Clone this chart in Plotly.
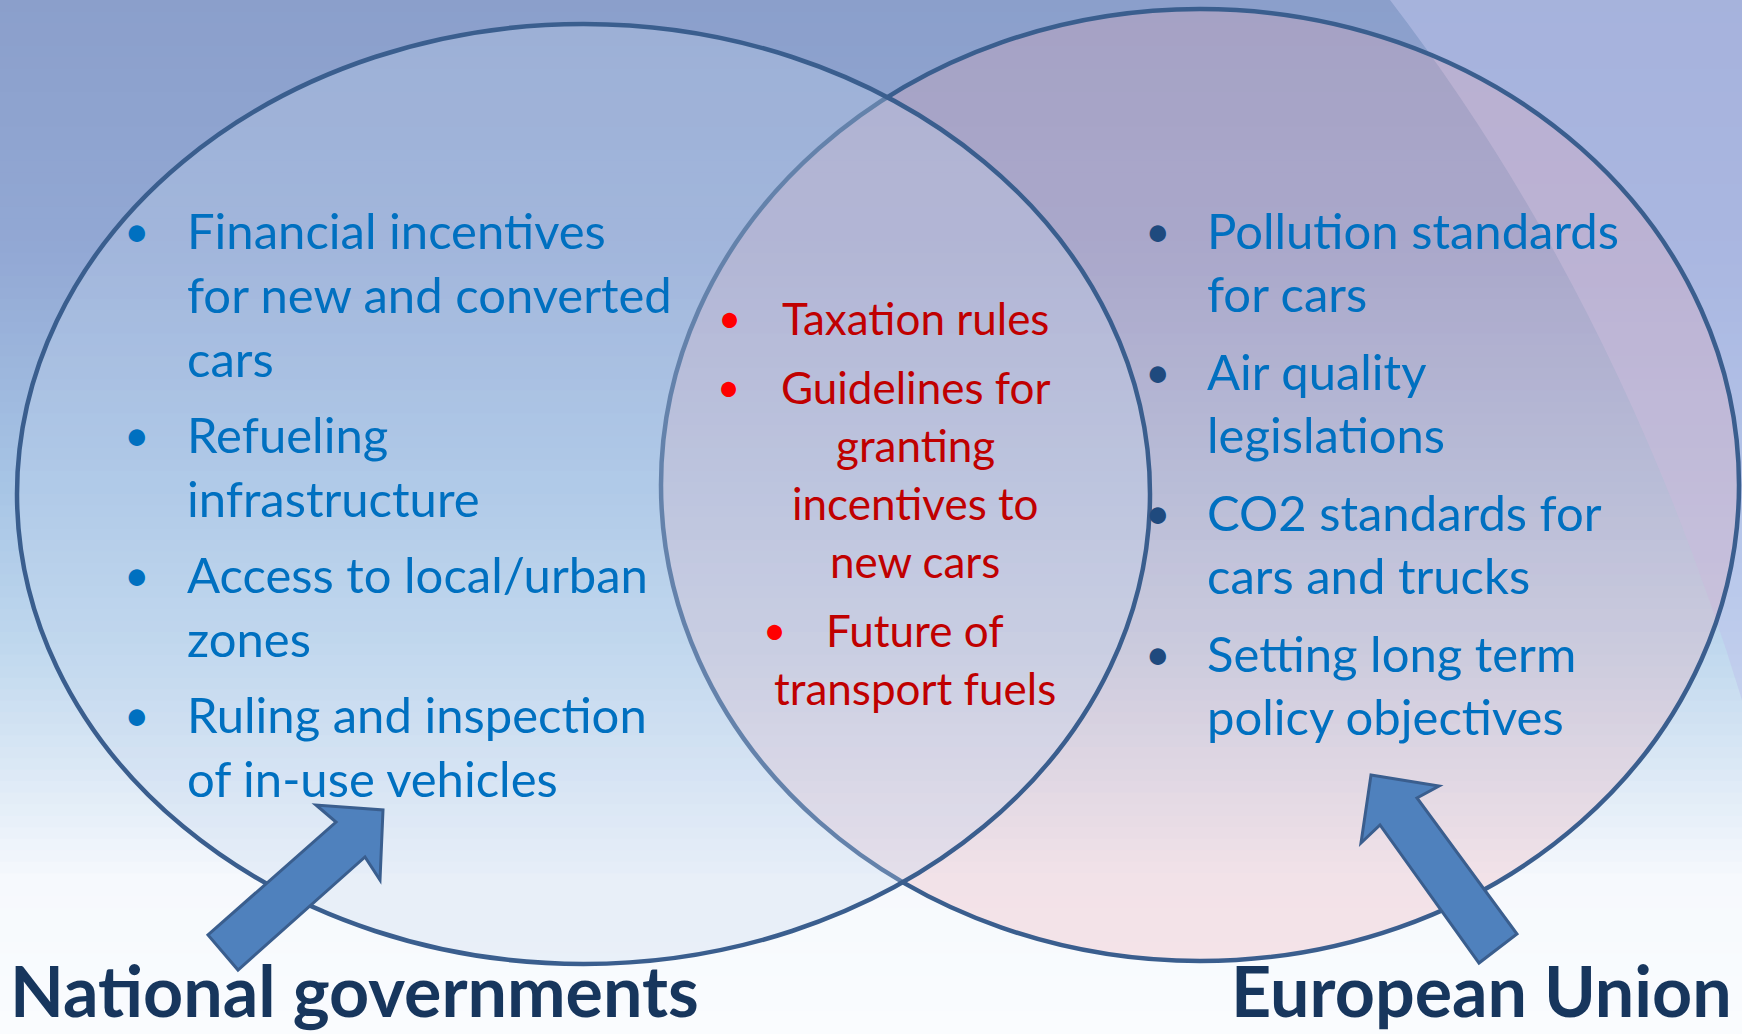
import plotly.graph_objects as go

W, H = 1742, 1034

# ---------------- data (text content) ----------------
national_items = [
    ["Financial incentives", "for new and converted", "cars"],
    ["Refueling", "infrastructure"],
    ["Access to local/urban", "zones"],
    ["Ruling and inspection", "of in-use vehicles"],
]
eu_items = [
    ["Pollution standards", "for cars"],
    ["Air quality", "legislations"],
    ["CO2 standards for", "cars and trucks"],
    ["Setting long term", "policy objectives"],
]
shared_items = [
    ["Taxation rules"],
    ["Guidelines for", "granting", "incentives to", "new cars"],
    ["Future of", "transport fuels"],
]
group_titles = ["National governments", "European Union"]

# ---------------- style / layout ----------------
FONT = "Lato"
BLUE_TXT = "#0070C0"
NAVY_BULLET = "#1F4A7E"
RED_TXT = "#C00000"
RED_BULLET = "#FF0000"
TITLE_COL = "#17365D"
OUTLINE = "#3A5E8E"
ARROW_FILL = "#4F81BD"

shapes = []
annotations = []

# background vertical gradient (bands)
stops = [(0, (139, 159, 203)), (250, (146, 168, 212)), (480, (166, 196, 229)),
         (650, (192, 216, 238)), (780, (222, 234, 246)), (880, (246, 249, 253)),
         (1034, (250, 252, 254))]

def interp(y):
    for (y0, c0), (y1, c1) in zip(stops[:-1], stops[1:]):
        if y0 <= y <= y1:
            t = (y - y0) / (y1 - y0)
            return tuple(int(round(a + (b - a) * t)) for a, b in zip(c0, c1))
    return stops[-1][1]

nb = 90
for i in range(nb):
    y0 = H * i / nb
    y1 = H * (i + 1) / nb + 1
    r, g, b = interp((y0 + y1) / 2)
    shapes.append(dict(type="rect", x0=0, x1=W, y0=y0, y1=y1, xref="x", yref="y",
                       fillcolor=f"rgb({r},{g},{b})", line=dict(width=0), layer="below"))

# soft lavender area upper right
shapes.append(dict(type="path", xref="x", yref="y",
                   path="M 1390 0 L 1742 0 L 1742 700 Q 1620 300 1390 0 Z",
                   fillcolor="rgba(190,195,235,0.55)", line=dict(width=0), layer="below"))

# ellipses (right first, then left on top)
right_ell = dict(x0=661, x1=1739, y0=9, y1=961)
left_ell = dict(x0=17, x1=1150, y0=24, y1=964)
shapes.append(dict(type="circle", xref="x", yref="y", **right_ell,
                   fillcolor="rgba(235,170,180,0.28)", line=dict(color=OUTLINE, width=4.5)))
shapes.append(dict(type="circle", xref="x", yref="y", **left_ell,
                   fillcolor="rgba(200,215,240,0.30)", line=dict(color=OUTLINE, width=4.5)))

# arrows
def poly(pts):
    return "M " + " L ".join(f"{x} {y}" for x, y in pts) + " Z"

left_arrow = [(383, 810), (380, 880), (365, 857), (238, 970), (208, 935), (336, 822), (316, 805)]
right_arrow = [(1371, 775), (1439, 786), (1417, 798), (1517, 934), (1479, 963), (1380, 825), (1361, 843)]
for pts in (left_arrow, right_arrow):
    shapes.append(dict(type="path", xref="x", yref="y", path=poly(pts),
                       fillcolor=ARROW_FILL, line=dict(color=OUTLINE, width=3)))

# ---------------- text ----------------
def line_positions(items, top, line_gap, item_gap):
    ys = []
    y = top
    for item in items:
        row = []
        for _ in item:
            row.append(y)
            y += line_gap
        ys.append(row)
        y += item_gap - line_gap
    return ys

TXT_SIZE = 49
RED_SIZE = 44
TITLE_SIZE = 70

def add_list(items, ys, xb, xt, bcol, tcol):
    for item, row in zip(items, ys):
        annotations.append(dict(x=xb, y=row[0], xref="x", yref="y", text="•", showarrow=False,
                                xanchor="center", yanchor="middle",
                                font=dict(family=FONT, size=44, color=bcol)))
        for line, y in zip(item, row):
            annotations.append(dict(x=xt, y=y, xref="x", yref="y", text=line, showarrow=False,
                                    xanchor="left", yanchor="middle",
                                    font=dict(family=FONT, size=TXT_SIZE, color=tcol)))

add_list(national_items, line_positions(national_items, 230, 64, 76), 137, 185, BLUE_TXT, BLUE_TXT)
add_list(eu_items, line_positions(eu_items, 230, 63, 78), 1158, 1205, NAVY_BULLET, BLUE_TXT)

shared_ys = line_positions(shared_items, 318, 58, 69)
shared_bullet_x = [729, 728, 774]
for item, row, bx in zip(shared_items, shared_ys, shared_bullet_x):
    annotations.append(dict(x=bx, y=row[0], xref="x", yref="y", text="•", showarrow=False,
                            xanchor="center", yanchor="middle",
                            font=dict(family=FONT, size=40, color=RED_BULLET)))
    for line, y in zip(item, row):
        annotations.append(dict(x=915, y=y, xref="x", yref="y", text=line, showarrow=False,
                                xanchor="center", yanchor="middle",
                                font=dict(family=FONT, size=RED_SIZE, color=RED_TXT)))

annotations.append(dict(x=8, y=H, xref="x", yref="y", text=f"<b>{group_titles[0]}</b>",
                        showarrow=False, xanchor="left", yanchor="bottom",
                        font=dict(family=FONT, size=TITLE_SIZE, color=TITLE_COL)))
annotations.append(dict(x=1734, y=H, xref="x", yref="y", text=f"<b>{group_titles[1]}</b>",
                        showarrow=False, xanchor="right", yanchor="bottom",
                        font=dict(family=FONT, size=TITLE_SIZE, color=TITLE_COL)))

fig = go.Figure()
fig.update_layout(
    width=W, height=H,
    margin=dict(l=0, r=0, t=0, b=0),
    paper_bgcolor="white", plot_bgcolor="white",
    xaxis=dict(range=[0, W], visible=False, fixedrange=True),
    yaxis=dict(range=[H, 0], visible=False, fixedrange=True),
    shapes=shapes, annotations=annotations, showlegend=False,
)
fig.write_html("out.html", config={"displayModeBar": False},
               post_script="document.body.style.margin='0';")
